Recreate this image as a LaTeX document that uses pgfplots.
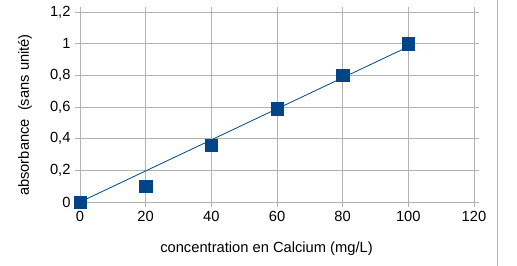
\documentclass[border=0pt]{standalone}
\usepackage{pgfplots}
\pgfplotsset{compat=1.18}
\usepackage{fontspec}
\setmainfont{Liberation Sans}
\definecolor{lobl}{HTML}{004586}
\definecolor{grd}{HTML}{B3B3B3}
\begin{document}
\begin{tikzpicture}
\path[use as bounding box] (0,0) rectangle (517bp,266bp);
\begin{axis}[
  at={(80bp,64bp)}, anchor=south west,
  scale only axis, width=394bp, height=190bp,
  xmin=0, xmax=120, ymin=0, ymax=1.2,
  xtick={0,20,...,120}, ytick={0,0.2,...,1.2},
  grid=major, major grid style={grd, line width=0.8bp},
  axis line style={grd, line width=0.8bp},
  tick style={grd, line width=0.8bp},
  tick align=outside, major tick length=5bp,
  /pgf/number format/use comma,
  /pgf/number format/assume math mode=true,
  yticklabel style={/pgf/number format/fixed, /pgf/number format/precision=1, font=\fontsize{14.7bp}{16bp}\selectfont, xshift=-1bp},
  xticklabel style={font=\fontsize{14.7bp}{16bp}\selectfont, yshift=-1bp},
  clip=false,
]
\addplot[lobl, line width=0.8bp] coordinates {(0,0) (100,0.981)};
\addplot[only marks, mark=square*, mark size=6.2bp, mark options={fill=lobl, draw=lobl}] coordinates {
(0,0) (20,0.10) (40,0.36) (60,0.59) (80,0.80) (100,1.00)};
\end{axis}
\draw[grd, line width=0.8bp] (497bp,0) -- (497bp,266bp);
\node[font=\fontsize{14.7bp}{16bp}\selectfont, rotate=90] at (25bp,151bp) {absorbance\ \ (sans unité)};
\node[font=\fontsize{14.7bp}{16bp}\selectfont] at (266.5bp,17bp) {concentration en Calcium (mg/L)};
\end{tikzpicture}
\end{document}
